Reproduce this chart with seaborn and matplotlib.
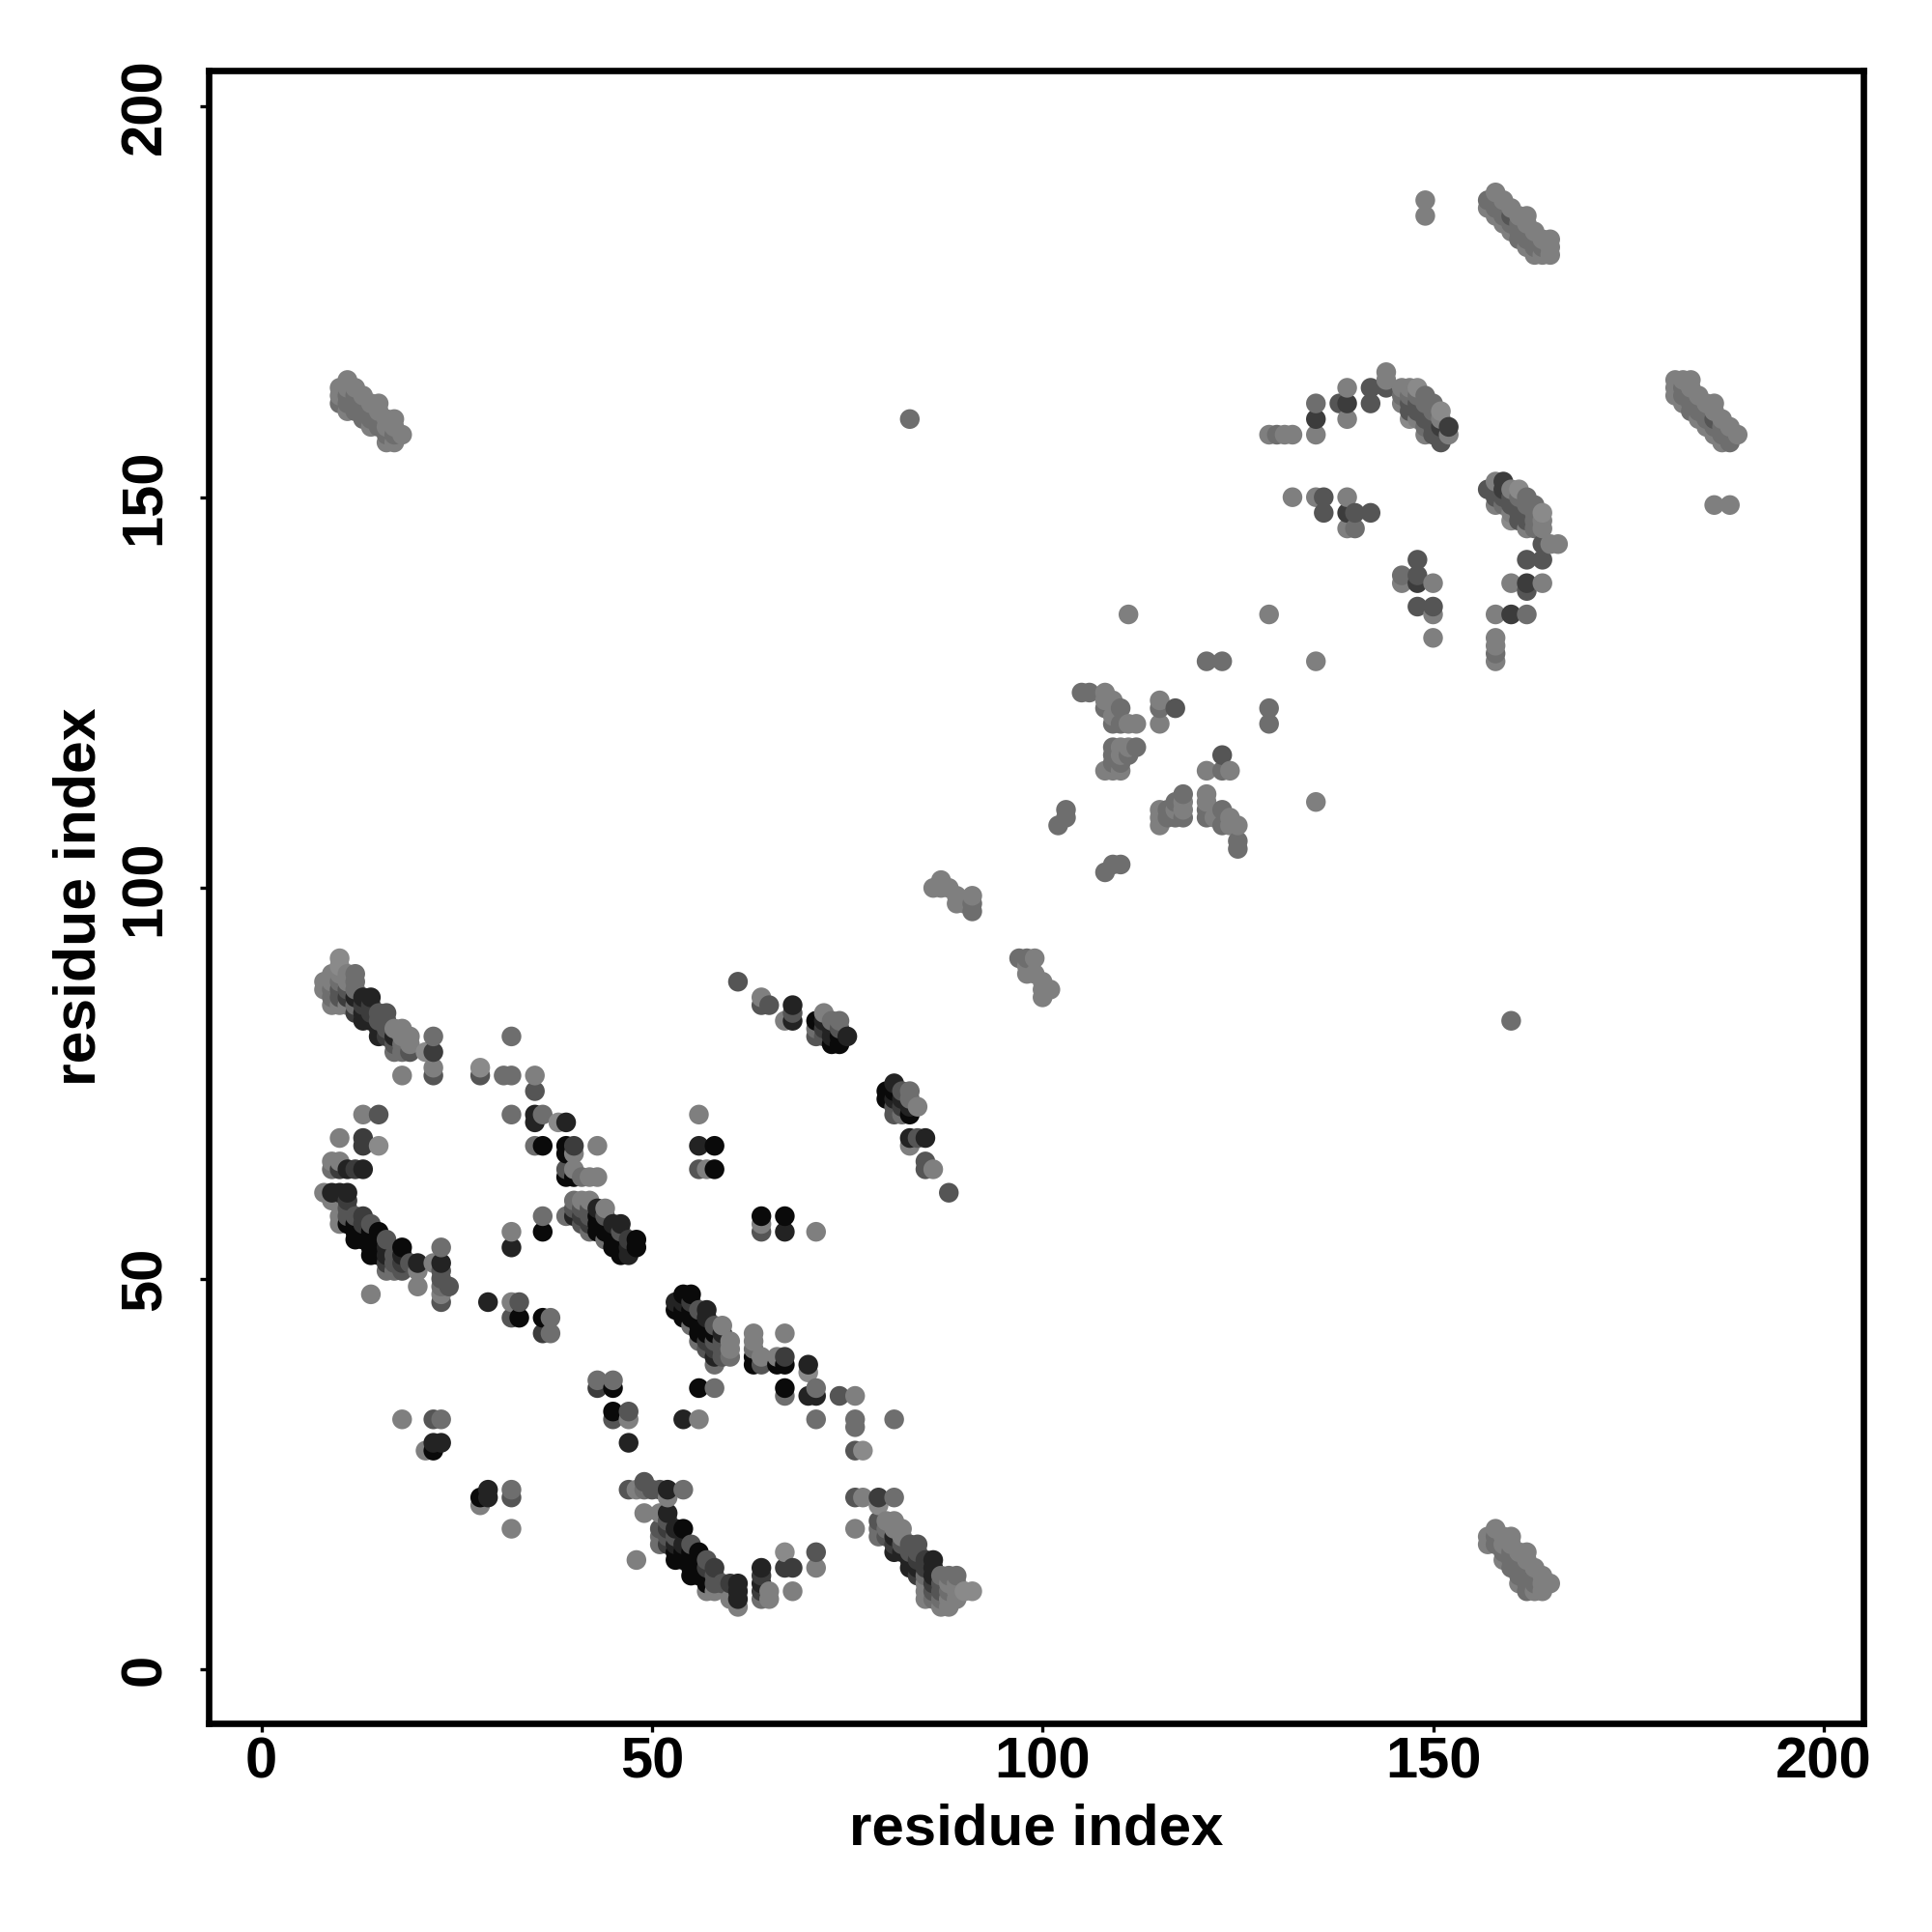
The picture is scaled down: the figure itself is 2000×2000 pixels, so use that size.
import matplotlib
matplotlib.use("Agg")
import matplotlib.pyplot as plt
import pandas as pd
import seaborn as sns

# contacts: (residue i, residue j, shade level), i < j; the map is symmetric
band_a = [(8,88,5),(8,87,5),(9,89,5),(9,88,5),(9,87,4),(9,86,4),(9,85,5),(10,91,6),(10,90,6),(10,89,5),(10,88,4),(10,87,3),(10,86,3),(10,85,5),
          (11,89,5),(11,88,5),(11,87,3),(11,86,2),(11,85,5),(12,89,4),(12,88,4),(12,87,4),(12,86,1),(12,85,4),(12,84,2),
          (13,86,1),(13,85,2),(13,84,1),(13,83,1),(14,86,1),(14,85,2),(14,84,2),(14,83,1),(15,84,3),(15,83,3),(15,82,1),(15,81,1),
          (16,84,3),(16,83,3),(16,82,3),(16,81,2),(17,82,5),(17,81,1),(17,80,3),(17,79,4),(18,82,5),(18,81,5),(18,80,4),(18,79,4),
          (19,81,5),(19,80,5),(19,79,3)]
band_a_side = [(22,81,4),(22,79,2),(21,79,6),(22,77,5),(22,76,3),(18,76,5),(28,76,3),(28,77,6),(31,76,4),(32,76,4),(32,81,4),(32,71,4),
               (35,76,5),(35,74,3),(35,71,1),(36,71,4),(35,70,1),(38,70,6),(39,70,1),(35,67,4),(36,67,0)]
arc_left = [(13,71,5),(15,71,3),(10,68,5),(13,68,2),(13,67,2),(15,67,6),(9,65,5),(10,65,5),(9,64,4),(10,64,2),(11,64,1),(12,64,2),(13,64,1)]
band_b = [(8,61,5),(9,61,1),(9,60,5),(10,61,1),(11,61,1),(11,60,2),(11,59,3),(10,58,5),(10,57,5),(11,58,3),(11,57,0),(12,58,3),(12,57,0),(12,56,0),(12,55,0),
          (13,58,2),(13,57,2),(13,56,0),(13,55,0),(14,57,3),(14,56,0),(14,55,0),(14,54,0),(14,53,0),(15,56,0),(15,55,0),(15,54,0),(15,53,0),
          (16,55,3),(16,54,1),(16,53,1),(16,52,2),(16,51,4),(17,53,3),(17,52,3),(17,51,4),(18,54,0),(18,53,1),(18,52,2),(18,51,3),(19,52,3),
          (20,52,1),(20,51,5),(20,49,5),(22,52,5),(23,54,4),(23,52,1),(23,51,3),(23,50,3),(23,49,4),(23,48,5),(23,47,3),(24,49,3),(14,48,5)]
band_c = [(39,64,3),(40,64,5),(39,63,0),(40,63,0),(41,63,4),(42,63,5),(43,63,5),(39,66,0),(40,66,5),(39,67,0),(40,67,2),(43,67,5),
          (39,58,4),(40,60,4),(40,59,3),(40,58,1),(41,60,5),(41,59,3),(41,58,2),(41,57,3),(42,60,5),(42,59,3),(42,58,3),(42,57,2),(42,56,4),
          (43,59,1),(43,58,0),(43,57,0),(43,56,0),(44,59,5),(44,58,3),(44,57,0),(44,56,0),(44,55,4),(45,57,1),(45,56,0),(45,55,0),(45,54,0),
          (46,57,1),(46,56,3),(46,55,0),(46,54,0),(47,55,2),(47,54,1),(47,53,1),(48,55,0),(48,54,0)]
band_d = [(53,47,1),(53,46,0),(54,48,0),(54,47,0),(54,46,0),(54,45,0),(55,48,0),(55,47,1),(55,46,0),(55,45,0),(55,44,0),(56,46,3),(56,45,0),(56,44,0),(56,43,1),(56,42,4),
          (57,46,2),(57,45,0),(57,44,0),(57,43,1),(57,42,3),(58,44,5),(58,43,2),(58,42,2),(58,41,1),(58,40,1),(58,39,4),(59,44,6),(59,43,3),(59,42,2),(59,41,2),(59,40,3),
          (60,42,6),(60,41,6),(60,40,4)]
block_e = [(56,71,5),(56,67,1),(58,67,0),(56,64,3),(57,64,5),(58,64,0),(32,56,5),(32,54,1),(36,58,4),(36,56,0),
           (29,47,1),(32,47,5),(33,47,3),(32,45,3),(33,45,0),(36,45,0),(37,45,4),(36,43,2),(37,43,4),
           (18,32,5),(22,32,3),(23,32,4),(22,29,1),(23,29,1),(21,28,5),(22,28,0),(32,18,5)]
block_f = [(39,63,0),(63,43,4),(63,42,4),(63,41,4),(63,40,0),(64,40,5),(66,40,5),(67,43,5),(67,40,2),(70,39,1),(70,38,5),(71,36,4)]
cluster_g = [(61,88,3),(64,86,5),(64,85,3),(65,85,3),(67,83,5),(68,85,1),(68,84,3),(68,83,1),
             (71,83,0),(71,82,4),(71,81,3),(72,84,5),(72,83,1),(72,82,2),(72,81,3),(73,83,4),(73,82,1),(73,81,1),(73,80,0),
             (74,83,4),(74,82,3),(74,81,0),(74,80,0),(75,81,1)]
middle_h = [(91,97,4),(91,98,4),(91,99,5),(90,98,5),(89,98,5),(89,99,5),(88,100,5),(87,100,5),(87,101,5),(86,100,5),
            (102,108,4),(103,109,4),(103,110,4),
            (105,125,4),(106,125,4),(108,125,5),(108,124,5),(109,124,5),(108,123,4),(110,123,4),(109,122,5),(109,121,4),(110,121,4),(111,121,5),(112,121,5),
            (109,118,4),(110,118,5),(111,118,5),(112,118,4),(109,117,4),(110,117,5),(111,117,4),(109,116,4),(110,116,4),(108,115,5),(109,115,5),(110,115,5),
            (115,124,5),(115,123,4),(117,123,3),(115,121,5),(123,129,4),(121,129,4),(129,135,5),(111,135,5)]
cluster_i = [(129,158,5),(130,158,4),(131,158,5),(132,158,5),(135,158,5),(135,160,2),(135,162,4),(138,162,3),(139,162,2),(139,164,5),(139,160,5),
             (142,164,3),(142,162,3),(144,164,3),(144,165,5),(144,166,5),
             (132,150,5),(135,150,5),(136,150,3),(136,148,3),(139,150,5),(139,148,2),(140,148,3),(142,148,3),(139,146,5),(140,146,4),
             (146,140,4)]
band_j = [(146,164,5),(146,163,4),(146,162,5),(147,164,5),(147,163,4),(147,162,3),(147,161,3),(147,160,6),(148,164,6),(148,163,4),(148,162,3),(148,161,3),(148,160,5),
          (149,163,4),(149,162,4),(149,161,3),(149,160,3),(149,159,4),(149,158,5),(150,162,4),(150,161,4),(150,160,3),(150,159,3),(150,158,3),
          (151,161,6),(151,160,5),(151,159,2),(151,158,3),(151,157,3),(152,159,2),(152,158,5)]
corner_k = [(10,164,5),(10,163,5),(10,162,4),(11,165,5),(11,164,5),(11,163,4),(11,162,4),(11,161,5),(12,164,5),(12,163,4),(12,162,4),(12,161,4),
            (13,163,5),(13,162,4),(13,161,4),(13,160,4),(14,162,5),(14,161,4),(14,160,4),(14,159,5),(15,162,5),(15,161,5),(15,160,4),(15,159,4),
            (16,160,5),(16,159,5),(16,158,4),(16,157,5),(17,160,5),(17,159,5),(17,158,4),(17,157,5),(18,158,5),(83,160,4)]
corner_l = [(157,188,4),(157,187,5),(158,189,5),(158,188,4),(158,187,4),(158,186,5),(159,188,5),(159,187,4),(159,186,4),(159,185,5),
            (160,187,5),(160,186,3),(160,185,4),(160,184,5),(161,186,5),(161,185,4),(161,184,4),(161,183,4),(162,186,5),(162,185,5),(162,184,4),(162,183,4),(162,182,5),
            (163,184,5),(163,183,4),(163,182,4),(163,181,5),(164,183,5),(164,182,4),(164,181,5),(165,183,5),(165,182,5),(165,181,5),(149,186,5),(149,188,5)]

shade_grays = ["#0a0a0a", "#232323", "#3c3c3c", "#555555", "#6e6e6e", "#7f7f7f", "#8a8a8a"]
x_ticks = [0, 50, 100, 150, 200]
y_ticks = [0, 50, 100, 150, 200]
axis_title = "residue index"

groups = [band_a, band_a_side, arc_left, band_b, band_c, band_d, block_e, block_f, cluster_g,
          middle_h, cluster_i, band_j, corner_k, corner_l]
rows = {}
for group in groups:
    for i, j, level in group:
        rows.setdefault((i, j), level)
        rows.setdefault((j, i), level)
df = pd.DataFrame([(i, j, s) for (i, j), s in sorted(rows.items())], columns=["i", "j", "shade"])

sns.set_theme(style="ticks")
plt.rcParams["font.family"] = ["Liberation Sans", "DejaVu Sans"]
W, H = 2000, 2000
fig = plt.figure(figsize=(10, 10), dpi=200, facecolor="white")
ax = fig.add_axes([216 / W, 1 - 1784 / H, (1929 - 216) / W, (1784 - 73) / H])
sns.scatterplot(data=df, x="i", y="j", hue="shade", palette=dict(enumerate(shade_grays)),
                s=54, linewidth=0, alpha=1, legend=False, ax=ax, zorder=3)
ax.set_xlim(-6.77, 205.1)
ax.set_ylim(-6.9, 204.6)
ax.set_xticks(x_ticks)
ax.set_yticks(y_ticks)
ax.tick_params(axis="both", length=3.1, width=1.2, color="black", labelsize=21.5, labelcolor="black")
ax.tick_params(axis="x", pad=1.8)
ax.tick_params(axis="y", pad=10.5)
for t in ax.get_xticklabels():
    t.set_fontweight("bold")
for t in ax.get_yticklabels():
    t.set_fontweight("bold")
    t.set_rotation(90)
    t.set_va("center")
for sp in ax.spines.values():
    sp.set_linewidth(2.4)
    sp.set_color("black")
    sp.set_visible(True)
ax.set_xlabel(axis_title, fontsize=21.6, fontweight="bold", color="black")
ax.set_ylabel(axis_title, fontsize=21.9, fontweight="bold", color="black")
ax.xaxis.set_label_coords(0.5, -0.048)
ax.yaxis.set_label_coords(-0.061, 0.5)
fig.savefig("out.png", dpi=200, facecolor="white")
